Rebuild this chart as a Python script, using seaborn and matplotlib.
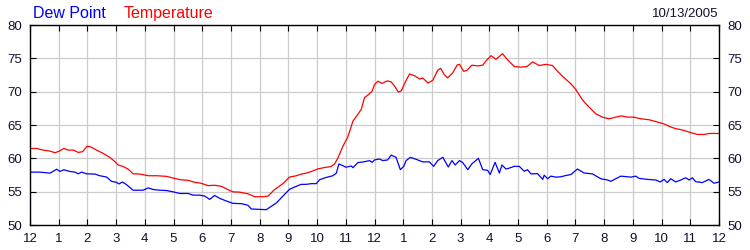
import matplotlib
matplotlib.use("Agg")
import matplotlib.pyplot as plt
import seaborn as sns
import pandas as pd

# ---- data (hours since midnight, degrees F) ----
temp_hours = [0.0, 0.23, 0.46, 0.70, 0.87, 1.02, 1.18, 1.33, 1.51, 1.68, 1.83, 1.99, 2.11, 2.32,
              2.55, 2.78, 2.96, 3.07, 3.25, 3.42, 3.59, 3.83, 4.12, 4.41, 4.75, 4.99, 5.22, 5.51,
              5.74, 5.91, 6.03, 6.20, 6.43, 6.67, 6.90, 7.07, 7.30, 7.59, 7.83, 8.12, 8.29, 8.52,
              8.81, 9.04, 9.28, 9.45, 9.62, 9.80, 10.03, 10.26, 10.49, 10.61, 10.72, 10.90, 11.07,
              11.25, 11.42, 11.54, 11.65, 11.80, 11.92, 12.0, 12.12, 12.26, 12.44, 12.58, 12.70,
              12.83, 12.93, 13.07, 13.22, 13.39, 13.57, 13.68, 13.86, 14.03, 14.20, 14.30, 14.43,
              14.55, 14.72, 14.88, 14.96, 15.11, 15.22, 15.39, 15.59, 15.77, 15.88, 16.06, 16.23,
              16.46, 16.64, 16.87, 17.10, 17.31, 17.51, 17.74, 17.97, 18.20, 18.38, 18.61, 18.84,
              19.01, 19.25, 19.48, 19.71, 19.94, 20.17, 20.41, 20.60, 20.81, 21.02, 21.28, 21.57,
              21.86, 22.09, 22.32, 22.49, 22.72, 23.01, 23.25, 23.48, 23.65, 24.0]
temp_values = [61.48, 61.48, 61.23, 61.08, 60.84, 61.08, 61.48, 61.23, 61.23, 60.89, 60.99, 61.82,
               61.72, 61.23, 60.74, 60.15, 59.5, 59.0, 58.77, 58.37, 57.68, 57.64, 57.39, 57.39,
               57.3, 57.04, 56.8, 56.7, 56.4, 56.3, 56.16, 55.91, 55.96, 55.8, 55.3, 54.97, 54.93,
               54.68, 54.24, 54.24, 54.33, 55.32, 56.2, 57.19, 57.39, 57.64, 57.78, 58.03, 58.42,
               58.62, 58.77, 59.16, 60.0, 61.82, 63.2, 65.6, 66.6, 67.35, 69.1, 69.6, 70.1, 71.08,
               71.57, 71.23, 71.62, 71.47, 70.83, 69.95, 70.1, 71.42, 72.65, 72.4, 71.9, 72.06,
               71.3, 71.7, 73.2, 73.5, 72.55, 72.06, 72.8, 74.0, 74.1, 73.04, 73.2, 73.97, 73.87,
               73.97, 74.6, 75.4, 74.85, 75.7, 74.75, 73.77, 73.68, 73.77, 74.46, 73.92, 74.1,
               73.92, 73.04, 72.06, 71.18, 70.34, 68.73, 67.65, 66.67, 66.18, 65.93, 66.18, 66.37,
               66.18, 66.18, 65.93, 65.78, 65.44, 65.15, 64.7, 64.46, 64.26, 63.87, 63.58, 63.58,
               63.73, 63.73]

dew_hours = [0.0, 0.35, 0.70, 0.93, 1.04, 1.18, 1.39, 1.57, 1.68, 1.80, 1.97, 2.26, 2.43, 2.67,
             2.84, 3.01, 3.10, 3.22, 3.36, 3.59, 3.94, 4.12, 4.29, 4.52, 4.75, 4.99, 5.22, 5.51,
             5.68, 5.91, 6.09, 6.26, 6.43, 6.61, 6.84, 7.07, 7.36, 7.59, 7.71, 8.23, 8.58, 9.04,
             9.33, 9.45, 9.62, 9.80, 9.97, 10.09, 10.32, 10.55, 10.67, 10.76, 11.01, 11.19, 11.25,
             11.42, 11.59, 11.83, 11.92, 12.0, 12.17, 12.29, 12.46, 12.58, 12.75, 12.90, 13.02,
             13.10, 13.25, 13.45, 13.68, 13.91, 14.06, 14.20, 14.38, 14.57, 14.70, 14.81, 14.96,
             15.07, 15.25, 15.39, 15.62, 15.77, 15.94, 16.03, 16.20, 16.35, 16.44, 16.58, 16.70,
             16.87, 17.04, 17.22, 17.33, 17.45, 17.68, 17.86, 17.91, 18.03, 18.14, 18.32, 18.49,
             18.67, 18.84, 19.07, 19.30, 19.59, 19.88, 20.12, 20.23, 20.58, 20.93, 21.10, 21.22,
             21.51, 21.80, 21.95, 22.09, 22.20, 22.32, 22.49, 22.67, 22.84, 22.96, 23.07, 23.19,
             23.42, 23.65, 23.83, 24.0]
dew_values = [57.93, 57.93, 57.78, 58.37, 58.03, 58.28, 58.03, 57.93, 57.68, 57.93, 57.68, 57.64,
              57.39, 57.19, 56.55, 56.4, 56.16, 56.45, 56.06, 55.22, 55.22, 55.57, 55.32, 55.22,
              55.17, 54.97, 54.73, 54.73, 54.48, 54.48, 54.33, 53.84, 54.43, 53.99, 53.6, 53.25,
              53.2, 52.96, 52.4, 52.3, 53.3, 55.36, 55.9, 56.1, 56.1, 56.2, 56.2, 56.8, 57.14,
              57.39, 57.78, 59.16, 58.67, 58.85, 58.6, 59.36, 59.45, 59.65, 59.4, 59.76, 59.9,
              59.66, 59.76, 60.49, 60.15, 58.3, 58.8, 59.66, 60.15, 59.85, 59.47, 59.47, 58.8,
              59.66, 60.15, 58.7, 59.66, 59.0, 59.66, 59.37, 58.3, 59.17, 60.0, 58.3, 58.2, 57.57,
              59.4, 57.8, 59.0, 58.4, 58.54, 58.8, 58.8, 58.06, 58.3, 57.67, 57.7, 56.84, 57.48,
              56.94, 57.33, 57.18, 57.23, 57.43, 57.57, 58.4, 57.8, 57.67, 56.94, 56.75, 56.55,
              57.33, 57.18, 57.33, 56.99, 56.84, 56.75, 56.46, 56.84, 56.36, 56.94, 56.46, 56.75,
              57.09, 56.75, 57.09, 56.5, 56.36, 56.84, 56.26, 56.46]

hour_ticks = list(range(0, 25))
hour_labels = ["12", "1", "2", "3", "4", "5", "6", "7", "8", "9", "10", "11",
               "12", "1", "2", "3", "4", "5", "6", "7", "8", "9", "10", "11", "12"]
y_ticks = [50, 55, 60, 65, 70, 75, 80]
series_names = ["Dew Point", "Temperature"]
series_colors = ["#0000ff", "#ff0000"]
date_text = "10/13/2005"

sns.set_theme(style="white")
plt.rcParams["font.family"] = ["Liberation Sans", "DejaVu Sans"]

df = pd.concat([
    pd.DataFrame({"hour": dew_hours, "value": dew_values, "series": series_names[0]}),
    pd.DataFrame({"hour": temp_hours, "value": temp_values, "series": series_names[1]}),
])

fig = plt.figure(figsize=(7.5, 2.5), dpi=100)
ax = fig.add_axes([30 / 750, 25 / 250, 689 / 750, 200 / 250])
sns.lineplot(data=df, x="hour", y="value", hue="series", palette=series_colors,
             hue_order=series_names, linewidth=0.9, legend=False, ax=ax, sort=False,
             estimator=None)

ax.set_xlim(0, 24)
ax.set_ylim(50, 80)
ax.set_xticks(hour_ticks)
ax.set_xticklabels(hour_labels)
ax.set_yticks(y_ticks)
ax.grid(True, color="#cccccc", linewidth=0.9)
ax.set_axisbelow(True)
ax.set_xlabel("")
ax.set_ylabel("")
for s in ax.spines.values():
    s.set_color("black")
    s.set_linewidth(1.0)
    s.set_visible(True)
label_color = "#101030"
ax.tick_params(axis="both", direction="in", length=4, width=0.8, color="black",
               labelsize=9.5, labelcolor=label_color, top=True, right=True,
               bottom=True, left=True, labelright=True)
ax.tick_params(axis="x", pad=6)
ax.tick_params(axis="y", pad=6)

fig.text(33 / 750, 1 - 17.5 / 250, series_names[0], color=series_colors[0], fontsize=11.5,
         ha="left", va="baseline")
fig.text(124 / 750, 1 - 17.5 / 250, series_names[1], color=series_colors[1], fontsize=11.5,
         ha="left", va="baseline")
fig.text(718 / 750, 1 - 17 / 250, date_text, color=label_color, fontsize=9.5,
         ha="right", va="baseline")

fig.savefig("out.png", dpi=100, facecolor="white")
